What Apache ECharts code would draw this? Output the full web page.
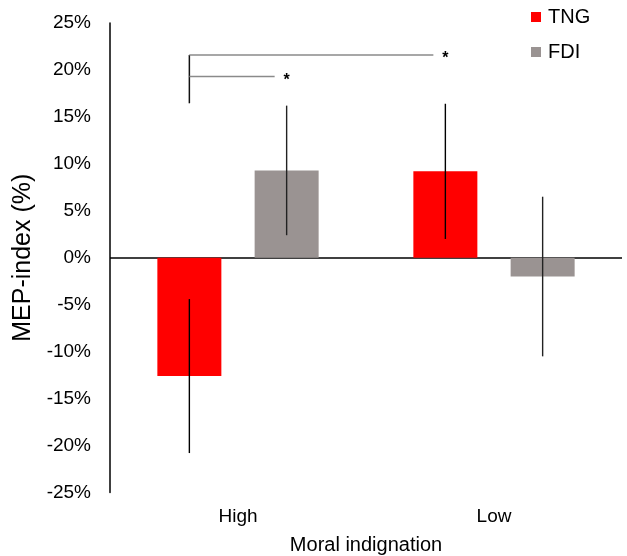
<!DOCTYPE html>
<html>
<head>
<meta charset="utf-8">
<script src="https://cdn.jsdelivr.net/npm/echarts@6/dist/echarts.min.js"></script>
<style>html,body{margin:0;padding:0;background:#fff}#c{width:627px;height:556px}</style>
</head>
<body>
<div id="c"></div>
<script>
const categories = ['High', 'Low'];
const seriesNames = ['TNG', 'FDI'];
const tngValues = [-12.6, 9.2];
const fdiValues = [9.3, -2.0];
const tngErrors = [8.2, 7.2];
const fdiErrors = [6.9, 8.5];
const yTicks = [-25, -20, -15, -10, -5, 0, 5, 10, 15, 20, 25];
// significance brackets: stem bottom/top, upper line level, lower line level
const bracketStem = [16.45, 21.6];
const bracketLevels = [21.6, 19.3];

const FONT = 'Liberation Sans, Arial, sans-serif';
const BAR_W = 0.25, BAR_GAP = 0.52;

function barOffset(api, which) {
  const band = api.size([1, 0])[0];
  const bw = band * BAR_W;
  const off = (bw + bw * BAR_GAP) / 2;
  return which === 0 ? -off : off;
}

function errData(vals, errs) {
  return vals.map((v, i) => [i, v - errs[i], v + errs[i]]);
}

function errSeries(name, which, vals, errs, color) {
  return {
    type: 'custom',
    name: name + '-err',
    data: errData(vals, errs),
    encode: { x: 0, y: [1, 2] },
    z: 5,
    renderItem: function (params, api) {
      const i = api.value(0);
      const lo = api.coord([i, api.value(1)]);
      const hi = api.coord([i, api.value(2)]);
      const x = lo[0] + barOffset(api, which);
      return {
        type: 'line',
        shape: { x1: x, y1: lo[1], x2: x, y2: hi[1] },
        style: { stroke: color, lineWidth: 1.4 }
      };
    }
  };
}

const chart = echarts.init(document.getElementById('c'));
chart.setOption({
  animation: false,
  textStyle: { fontFamily: FONT },
  grid: { left: 110, right: 5, top: 23, bottom: 63.5, outerBoundsMode: 'none', containLabel: false },
  legend: {
    data: seriesNames,
    orient: 'vertical',
    left: 531,
    top: 7,
    padding: 0,
    itemWidth: 10,
    itemHeight: 10,
    itemGap: 15,
    icon: 'rect',
    textStyle: { fontFamily: FONT, fontSize: 20, color: '#000', padding: [0, 0, 0, 2] }
  },
  xAxis: {
    type: 'category',
    data: categories,
    position: 'bottom',
    axisLine: { show: false },
    axisTick: { show: false },
    axisLabel: { fontSize: 19, color: '#000', margin: 14.5, fontFamily: FONT },
    name: 'Moral indignation',
    nameLocation: 'middle',
    nameGap: 42.5,
    nameTextStyle: { fontSize: 20, color: '#000', fontFamily: FONT }
  },
  yAxis: {
    type: 'value',
    min: yTicks[0],
    max: yTicks[yTicks.length - 1],
    interval: 5,
    axisLine: { show: true, lineStyle: { color: '#000', width: 1.5 } },
    axisTick: { show: false },
    splitLine: { show: false },
    axisLabel: { formatter: '{value}%', fontSize: 19, color: '#000', margin: 19, fontFamily: FONT },
    name: 'MEP-index (%)',
    nameLocation: 'middle',
    nameGap: 71,
    nameTextStyle: { fontSize: 25, color: '#000', fontFamily: FONT }
  },
  series: [
    {
      type: 'bar', name: seriesNames[0], data: tngValues,
      barWidth: (BAR_W * 100) + '%', barGap: (BAR_GAP * 100) + '%',
      itemStyle: { color: '#ff0000' },
      markLine: {
        silent: true,
        symbol: 'none',
        label: { show: false },
        lineStyle: { color: '#000', width: 1.5, type: 'solid' },
        data: [{ yAxis: 0 }],
        z: 1
      }
    },
    {
      type: 'bar', name: seriesNames[1], data: fdiValues,
      barWidth: (BAR_W * 100) + '%', barGap: (BAR_GAP * 100) + '%',
      itemStyle: { color: '#9a9392' }
    },
    errSeries(seriesNames[0], 0, tngValues, tngErrors, '#000'),
    errSeries(seriesNames[1], 1, fdiValues, fdiErrors, '#222'),
    {
      type: 'custom',
      name: 'brackets',
      data: [[0, bracketStem[0], bracketStem[1]]],
      encode: { x: 0, y: [1, 2] },
      z: 6,
      renderItem: function (params, api) {
        const stemX = api.coord([0, 0])[0] + barOffset(api, 0);
        const stemBot = api.coord([0, api.value(1)])[1];
        const stemTop = api.coord([0, api.value(2)])[1];
        const y1 = api.coord([0, bracketLevels[0]])[1];
        const y2 = api.coord([0, bracketLevels[1]])[1];
        const lowTngX = api.coord([1, 0])[0] + barOffset(api, 0);
        const highFdiX = api.coord([0, 0])[0] + barOffset(api, 1);
        const gray = '#8a8a8a';
        return {
          type: 'group',
          children: [
            { type: 'line', shape: { x1: stemX, y1: stemBot, x2: stemX, y2: stemTop }, style: { stroke: '#111', lineWidth: 1.5 } },
            { type: 'line', shape: { x1: stemX, y1: y1, x2: lowTngX - 12, y2: y1 }, style: { stroke: gray, lineWidth: 1.5 } },
            { type: 'line', shape: { x1: stemX, y1: y2, x2: highFdiX - 12, y2: y2 }, style: { stroke: gray, lineWidth: 1.5 } },
            { type: 'text', style: { x: lowTngX, y: y1 + 4, text: '*', fill: '#000', font: 'bold 16px ' + FONT, textAlign: 'center', textVerticalAlign: 'middle' } },
            { type: 'text', style: { x: highFdiX, y: y2 + 4, text: '*', fill: '#000', font: 'bold 16px ' + FONT, textAlign: 'center', textVerticalAlign: 'middle' } }
          ]
        };
      }
    }
  ]
});
</script>
</body>
</html>
